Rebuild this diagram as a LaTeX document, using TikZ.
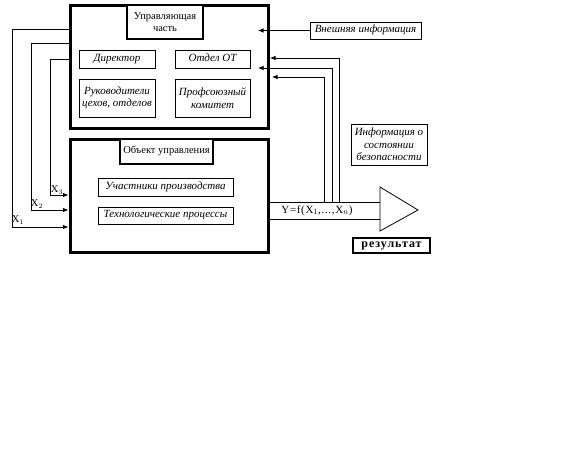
\documentclass[tikz,border=0pt]{standalone}
\usepackage{fontspec}
\setmainfont{Liberation Serif}
\usetikzlibrary{arrows.meta}
\usetikzlibrary{positioning}

\begin{document}
\begin{tikzpicture}[x=1pt,y=-1pt]
		\tikzstyle{every node}+=[inner sep=0pt]
		\tikzstyle{bigbox}=[draw, line width=3pt, rectangle]
		\tikzstyle{headbox}=[draw, line width=2.6pt, rectangle, fill=white, align=center, font=\fontsize{10.5}{12}\selectfont]
		\tikzstyle{unitbox}=[draw, line width=0.8pt, rectangle, align=center, font=\fontsize{11}{12.5}\selectfont\itshape]
		\tikzstyle{oneline}=[text height=0.9ex, text depth=0pt]
		\tikzstyle{sig}=[line width=0.8pt]
		\tikzstyle{sigarrow}=[line width=0.8pt, -{Latex[length=5.5pt,width=4.5pt]}]
		\useasboundingbox (0,0) rectangle (571,450);
		% control part
		\node [bigbox, minimum width=198pt, minimum height=123pt] (ctrl) at (169,66.5) {};
		\node [headbox, minimum width=76pt, minimum height=34pt] (ctrlhead) at (165,22) {Управляющая\\часть};
		\node [unitbox, oneline, minimum width=76pt, minimum height=18pt] (dir) at (117,59) {Директор};
		\node [unitbox, oneline, minimum width=75pt, minimum height=18pt] (ot) at (212.5,59) {Отдел ОТ};
		\node [unitbox, minimum width=76pt, minimum height=38pt] (heads) at (117,98) {Руководители\\цехов, отделов};
		\node [unitbox, minimum width=75pt, minimum height=38pt] (union) at (212.5,98) {Профсоюзный\\комитет};
		% controlled object
		\node [bigbox, minimum width=198pt, minimum height=113pt] (obj) at (169,195.5) {};
		\node [headbox, oneline, minimum width=93pt, minimum height=25pt] (objhead) at (166.5,151.5) {Объект управления};
		\node [unitbox, oneline, minimum width=135pt, minimum height=18pt] (staff) at (165.5,187) {Участники производства};
		\node [unitbox, oneline, minimum width=135pt, minimum height=17pt] (tech) at (165.5,215.5) {Технологические процессы};
		% side notes
		\node [unitbox, oneline, minimum width=111pt, minimum height=17pt] (ext) at (365.5,30.5) {Внешняя информация};
		\node [unitbox, minimum width=76pt, minimum height=41pt] (safety) at (389,144.5) {Информация о\\состоянии\\безопасности};
		\node [draw, line width=1.4pt, minimum width=77pt, minimum height=15pt, text height=0.9ex, text depth=0pt, font=\fontsize{12}{12}\selectfont\bfseries\addfontfeatures{LetterSpace=8}] (res) at (391.5,245.5) {результат};
		% result triangle
		\coordinate (t1) at (380,187);
		\coordinate (t2) at (380,231);
		\coordinate (tip) at (418,210);
		\draw [sig] (t1) -- (tip) -- (t2) -- cycle;
		% output
		\draw [sig] (obj.east |- 0,202) -- (t1 |- 0,202);
		\draw [sig] (obj.east |- 0,219) -- (t1 |- 0,219);
		\node [font=\fontsize{11}{12}\selectfont\addfontfeatures{LetterSpace=6}] (yf) at (317,210.5) {Y=f(X$_{1}$,...,X$_{n}$)};
		% feedback
		\draw [sigarrow] (339,202) -- (339,58) -- (270,58);
		\draw [sigarrow] (332,202) -- (332,68) -- (258,68);
		\draw [sigarrow] (324,202) -- (324,77) -- (272,77);
		\draw [sigarrow] (ext.west) -- (258,30.5);
		% inputs
		\draw [sigarrow] (ctrl.west |- 0,29) -- (12,29) -- (12,227) -- (obj.west |- 0,227);
		\draw [sigarrow] (ctrl.west |- 0,43) -- (31,43) -- (31,210) -- (obj.west |- 0,210);
		\draw [sigarrow] (ctrl.west |- 0,59) -- (50,59) -- (50,195) -- (obj.west |- 0,195);
		\node [font=\fontsize{10.5}{12}\selectfont] (x1) at (18,220) {X$_{1}$};
		\node [font=\fontsize{10.5}{12}\selectfont] (x2) at (37,204) {X$_{2}$};
		\node [font=\fontsize{10.5}{12}\selectfont] (x3) at (57,190) {X$_{3}$};
\end{tikzpicture}
\end{document}
